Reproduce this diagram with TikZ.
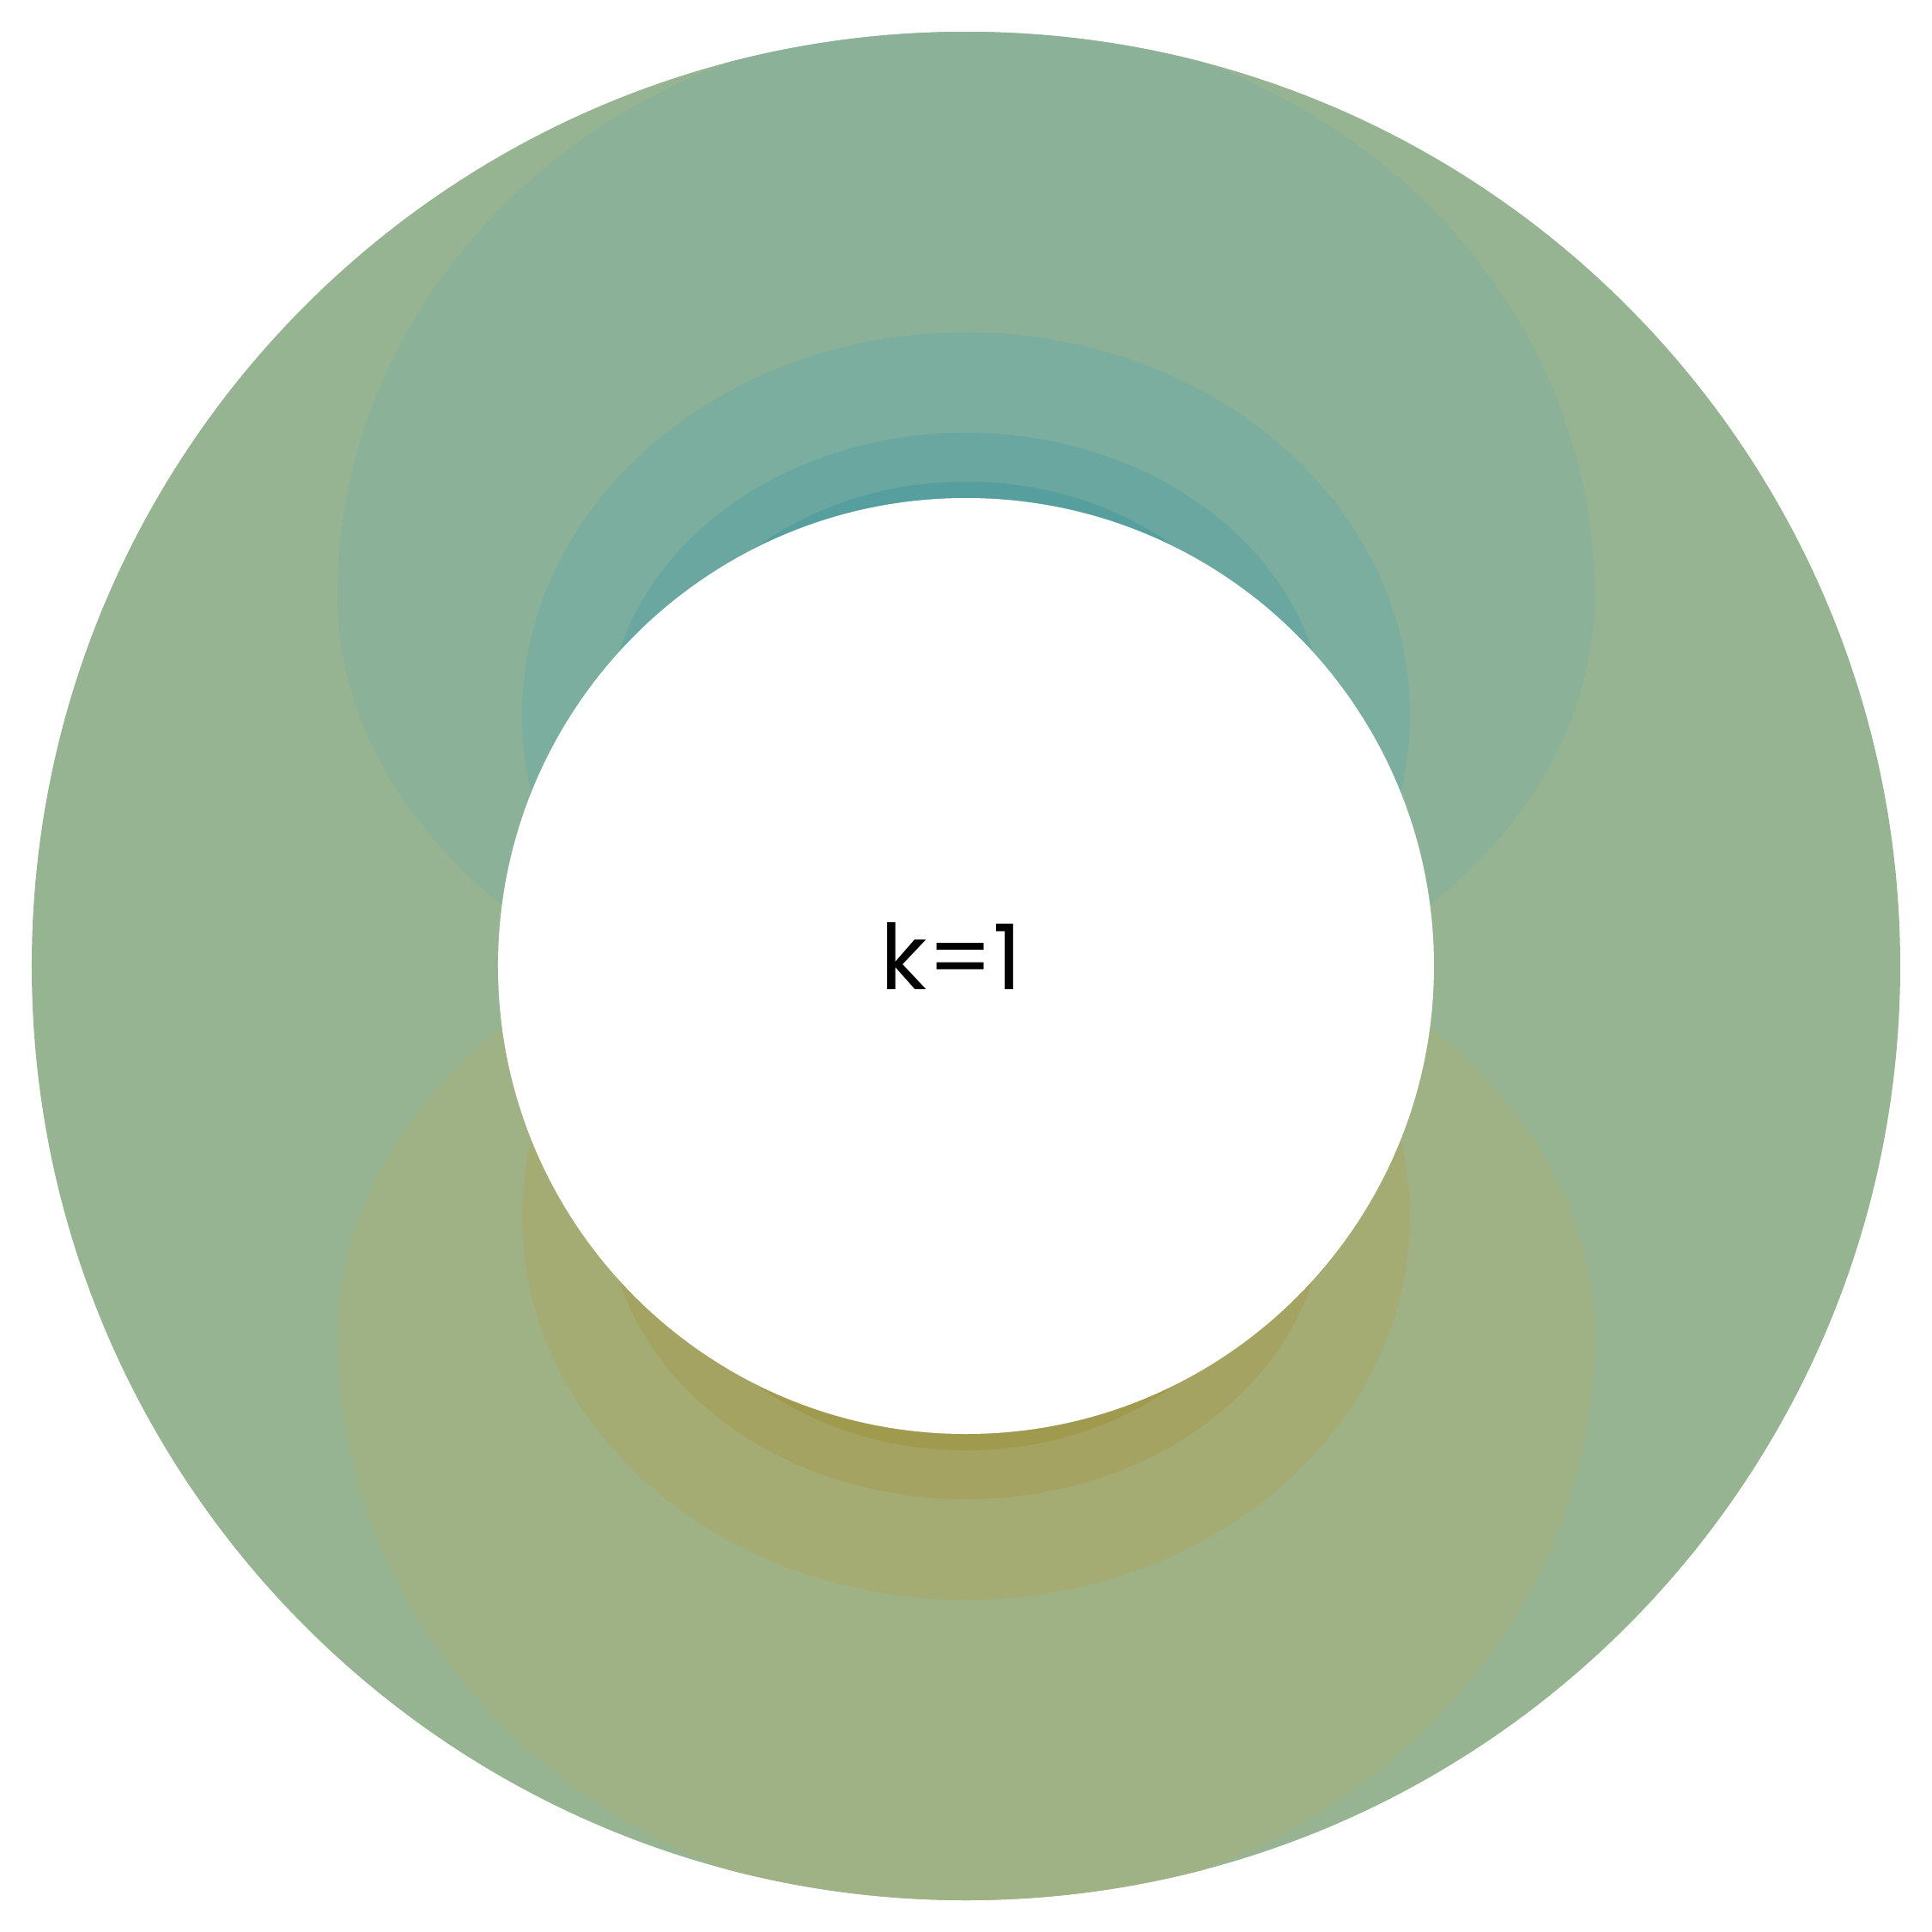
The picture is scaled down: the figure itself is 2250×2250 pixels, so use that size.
\documentclass[tikz,border=0pt]{standalone}
\usepackage{fontspec}
\setmainfont{Poppins}
\usepackage{xcolor}
\definecolor{ringbase}{HTML}{97B492}
\definecolor{tealA}{HTML}{8BB298}
\definecolor{tealB}{HTML}{7BAE9E}
\definecolor{tealC}{HTML}{69A7A0}
\definecolor{tealD}{HTML}{579E9E}
\definecolor{oliveA}{HTML}{9FB285}
\definecolor{oliveB}{HTML}{A5AC73}
\definecolor{oliveC}{HTML}{A4A362}
\definecolor{oliveD}{HTML}{A09A4F}

% egg shaped lobe: #1 = centre y, #2 = half width, #3 = upper height, #4 = lower height
\newcommand{\lobe}[4]{(-#2,#1) arc[start angle=180,end angle=0,x radius=#2,y radius=#3]
  arc[start angle=0,end angle=-180,x radius=#2,y radius=#4] -- cycle}

\begin{document}
\begin{tikzpicture}[x=0.01cm,y=0.01cm,
    lobefill/.style={fill=#1,draw=none},
    label/.style={font=\fontsize{30}{36}\selectfont,text=black,inner sep=0pt}
  ]
  \useasboundingbox (-1125,-1125) rectangle (1125,1125);

  % outer ring
  \fill[ringbase] (0,0) circle[radius=1088];

  \begin{scope}
    \clip (0,0) circle[radius=1088];
    % upper lobes
    \fill[lobefill=tealA] \lobe{432}{732}{670}{535};
    \fill[lobefill=tealB] \lobe{292}{517}{446}{440};
    \fill[lobefill=tealC] \lobe{277}{418}{344}{344};
    \fill[lobefill=tealD] \lobe{256}{370}{308}{308};
    % lower lobes
    \fill[lobefill=oliveA] \lobe{-432}{732}{535}{670};
    \fill[lobefill=oliveB] \lobe{-292}{517}{440}{446};
    \fill[lobefill=oliveC] \lobe{-277}{418}{344}{344};
    \fill[lobefill=oliveD] \lobe{-256}{370}{308}{308};
  \end{scope}

  % hole
  \fill[white] (0,0) circle[radius=545];

  \node[label,anchor=base] (klabel) at (-17,-27) {k=1};
\end{tikzpicture}
\end{document}
